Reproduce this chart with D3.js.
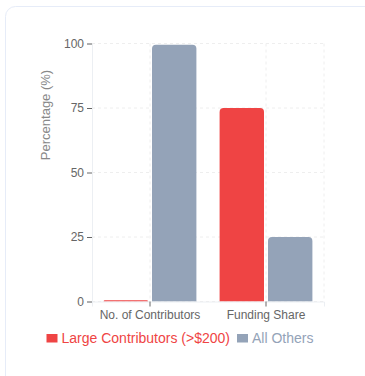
<!DOCTYPE html>
<html>
<head>
<meta charset="utf-8">
<script src="https://cdn.jsdelivr.net/npm/d3@7/dist/d3.min.js"></script>
<style>
  html, body { margin: 0; padding: 0; background: #fff; }
  svg { display: block; font-family: "Liberation Sans", Arial, sans-serif; }
</style>
</head>
<body>
<svg id="chart" width="365" height="376"></svg>
<script>
const categories = ["No. of Contributors", "Funding Share"];
const seriesNames = ["Large Contributors (>$200)", "All Others"];
const seriesColors = ["#ef4444", "#94a3b8"];
const largeValues = [0.5, 75];
const otherValues = [99.5, 25];
const yTicks = [0, 25, 50, 75, 100];

const FONT = "'Liberation Sans', Arial, sans-serif";
const svg = d3.select("#chart");

// card frame
svg.append("rect")
  .attr("x", 5.5).attr("y", 6.5)
  .attr("width", 420).attr("height", 420)
  .attr("rx", 10)
  .attr("fill", "#fff")
  .attr("stroke", "#e6ecf8");

const plot = { left: 92, right: 324, top: 43.5, bottom: 301.5 };

const x = d3.scaleBand().domain(categories).range([plot.left, plot.right]).paddingInner(0).paddingOuter(0);
const y = d3.scaleLinear().domain([0, 100]).range([plot.bottom, plot.top]);

const g = svg.append("g");

// grid
g.selectAll(".hgrid").data(yTicks).join("line")
  .attr("x1", plot.left).attr("x2", plot.right)
  .attr("y1", d => y(d)).attr("y2", d => y(d))
  .attr("stroke", "#eeeeee").attr("stroke-dasharray", "3 3");
const vgrid = categories.map(c => x(c) + x.bandwidth() / 2).concat([plot.right]);
g.selectAll(".vgrid").data(vgrid).join("line")
  .attr("x1", d => d).attr("x2", d => d)
  .attr("y1", plot.top).attr("y2", plot.bottom)
  .attr("stroke", "#eeeeee").attr("stroke-dasharray", "3 3");

// bars
const series = [largeValues, otherValues];
const gap = 4;
const inner = x.bandwidth() * 0.8;
const barW = (inner - gap) / 2;
function topRounded(x0, y0, w, h, r) {
  r = Math.min(r, h, w / 2);
  return `M${x0},${y0 + h}V${y0 + r}Q${x0},${y0} ${x0 + r},${y0}H${x0 + w - r}Q${x0 + w},${y0} ${x0 + w},${y0 + r}V${y0 + h}Z`;
}
series.forEach((vals, si) => {
  g.selectAll(".bar" + si).data(categories).join("path")
    .attr("fill", seriesColors[si])
    .attr("d", (c, i) => {
      const x0 = x(c) + x.bandwidth() * 0.1 + si * (barW + gap);
      const y0 = y(vals[i]);
      return topRounded(x0, y0, barW, y(0) - y0, 4);
    });
});

// axes
const yAxis = d3.axisLeft(y).tickValues(yTicks).tickSize(5).tickPadding(3);
const ya = svg.append("g").attr("transform", `translate(${plot.left},0)`).call(yAxis);
const xAxis = d3.axisBottom(x).tickSize(5).tickPadding(4);
const xa = svg.append("g").attr("transform", `translate(0,${plot.bottom})`).call(xAxis);
[ya, xa].forEach(a => {
  a.select(".domain").attr("stroke", "#eceff3");
  a.selectAll(".tick line").attr("stroke", "#666");
  a.selectAll(".tick text").attr("fill", "#666").style("font-size", "12px").style("font-family", FONT);
});

// y-axis title
svg.append("text")
  .attr("transform", "translate(50,115) rotate(-90)")
  .attr("text-anchor", "middle")
  .attr("fill", "#888")
  .style("font-size", "13px")
  .text("Percentage (%)");

// legend
const legend = svg.append("g");
const legendX = [46.5, 237];
seriesNames.forEach((name, i) => {
  legend.append("rect")
    .attr("x", legendX[i]).attr("y", 334)
    .attr("width", 11).attr("height", 8.5)
    .attr("fill", seriesColors[i]);
  legend.append("text")
    .attr("x", legendX[i] + 15).attr("y", 343)
    .attr("fill", seriesColors[i])
    .style("font-size", "14px")
    .text(name);
});
</script>
</body>
</html>
